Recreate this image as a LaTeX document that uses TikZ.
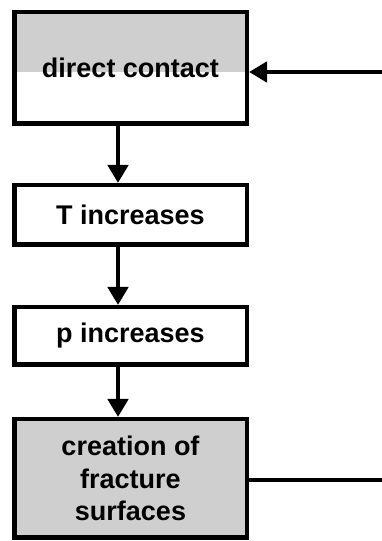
\documentclass[tikz,border=0pt]{standalone}
\usepackage{fontspec}
\setmainfont{Liberation Sans}
\usetikzlibrary{arrows.meta}
\definecolor{dotgray}{HTML}{CFCFCF}
\tikzset{
  box/.style={draw=black, line width=4.5pt, minimum width=232.5pt, inner sep=0pt,
    align=center, font=\fontsize{27}{32.5}\selectfont\bfseries},
  arr/.style={line width=4.5pt, -{Triangle[length=18pt,width=20pt]}},
  link/.style={line width=4.5pt}
}
\begin{document}
\begin{tikzpicture}[x=1pt,y=1pt]
\useasboundingbox (0,0) rectangle (382,541);
\node[box, minimum height=111.5pt,
  path picture={\fill[dotgray] (path picture bounding box.north west) rectangle ([yshift=-4pt]path picture bounding box.east);}]
  (contact) at (130.5,473) {direct contact};
\node[box, minimum height=59.5pt] (T) at (130.5,326) {T increases};
\node[box, minimum height=57.5pt] (p) at (130.5,205) {p increases};
\node[box, minimum height=118.5pt, fill=dotgray] (frac) at (130.5,62.5) {creation of\\fracture\\surfaces};
\coordinate (ax) at (118,0);
\coordinate (inR) at (382,469);
\coordinate (outR) at (382,61);
\draw[arr] (contact.south -| ax) -- (T.north -| ax);
\draw[arr] (T.south -| ax) -- (p.north -| ax);
\draw[arr] (p.south -| ax) -- (frac.north -| ax);
\draw[arr] (inR) -- (inR -| contact.east);
\draw[link] (frac.east |- outR) -- (outR);
\end{tikzpicture}
\end{document}
